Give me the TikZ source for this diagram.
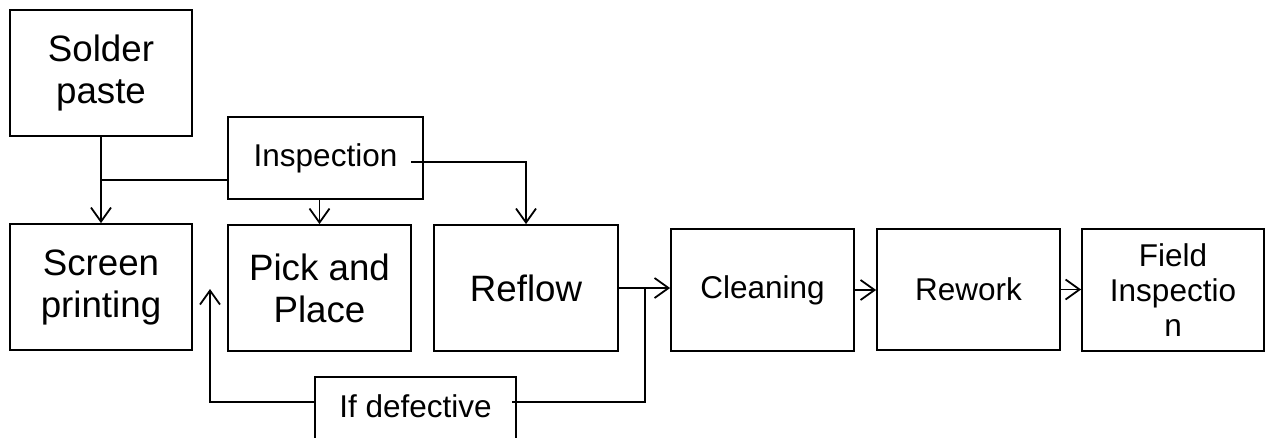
\documentclass[tikz,border=0pt]{standalone}
\usepackage{fontspec}
\setmainfont{Liberation Sans}
\usetikzlibrary{arrows.meta}
\def\bigtxt{\fontsize{36.7}{42}\selectfont}
\def\smalltxt{\fontsize{31.5}{35}\selectfont}

\begin{document}
\begin{tikzpicture}[x=1pt,y=-1pt,
    box/.style={draw,line width=1.8pt,inner sep=0pt,align=center},
    link/.style={line width=1.8pt},
    arr/.style={link,-{Straight Barb[length=14pt,width=20pt]}}]
    \useasboundingbox (0,0) rectangle (1268,437);
    \clip (0,0) rectangle (1268,437);
    % Top row
    \node[box,minimum width=182,minimum height=126,font=\bigtxt] (solder) at (101,73) {Solder\\paste};
    \node[box,minimum width=195,minimum height=82,font=\smalltxt] (insp) at (325.5,158) {Inspection};
    % Main row
    \node[box,minimum width=182,minimum height=126,font=\bigtxt] (screen) at (101,287) {Screen\\printing};
    \node[box,minimum width=183,minimum height=126,font=\bigtxt] (pick) at (319.5,288) {Pick and\\Place};
    \node[box,minimum width=184,minimum height=126,font=\bigtxt] (reflow) at (526,288) {Reflow};
    \node[box,minimum width=183,minimum height=122,font=\smalltxt] (clean) at (762.5,290) {Cleaning};
    \node[box,minimum width=183,minimum height=121,font=\smalltxt] (rework) at (968.5,289.5) {Rework};
    \node[box,minimum width=182,minimum height=122,font=\smalltxt] (field) at (1173,290) {Field\\Inspectio\\n};
    % Feedback box
    \node[box,minimum width=201,text height=40pt,text depth=60pt,font=\smalltxt,anchor=base] (defect) at (415.5,417) {If defective};
    % Connectors
    \coordinate (jn) at (101,180);
    \coordinate (iout) at (411,162);
    \coordinate (fb) at (645,402);
    \coordinate (dr) at (512,402);
    \coordinate (up) at (210,289);
    \draw[arr] (solder) -- (screen);
    \draw[link] (insp.west |- jn) -- (jn);
    \draw[arr] (insp.south -| pick.north) -- (pick.north);
    \draw[arr] (iout) -| (reflow.north);
    \draw[arr] (reflow.east) -- (reflow.east -| clean.west);
    \draw[link] (fb |- reflow.east) -- (fb) -- (dr);
    \draw[arr] (defect.west |- fb) -| (up);
    \draw[arr] (clean.east) -- (clean.east -| rework.west);
    \draw[arr] (rework.east) -- (rework.east -| field.west);
\end{tikzpicture}
\end{document}
